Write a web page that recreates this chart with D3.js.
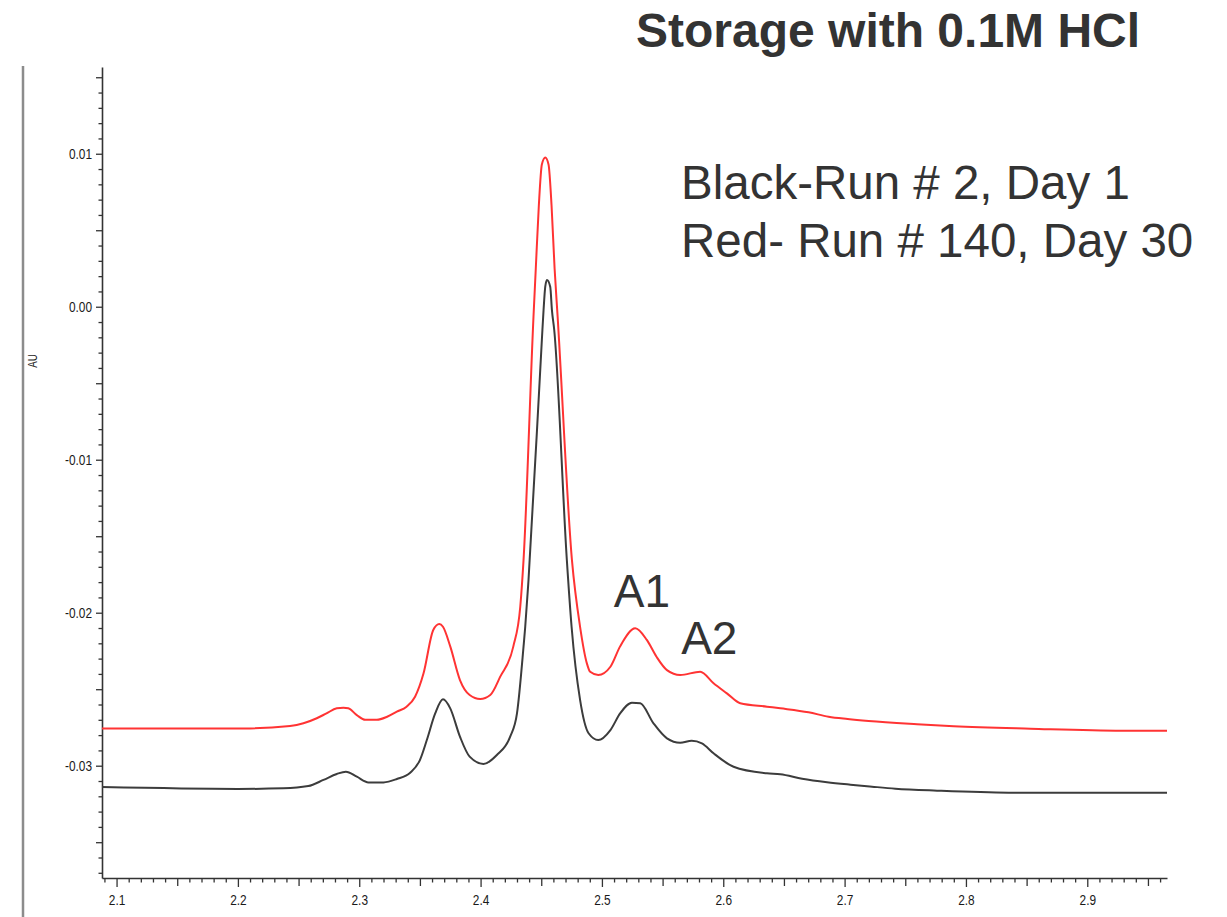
<!DOCTYPE html>
<html>
<head>
<meta charset="utf-8">
<script src="https://cdn.jsdelivr.net/npm/d3@7"></script>
<style>
  html, body { margin: 0; padding: 0; background: #fff; }
  svg { display: block; }
</style>
</head>
<body>
<script>
// Retention time (min) and absorbance (AU)
let blackTrace = [
  [2.088,-0.0314],[2.20,-0.03152],[2.2375,-0.03148],[2.258,-0.03133],[2.2705,-0.03093],
  [2.2815,-0.03054],[2.289,-0.03039],[2.298,-0.03072],[2.3076,-0.03109],[2.32,-0.03109],
  [2.331,-0.03087],[2.342,-0.03046],[2.35,-0.02963],[2.3557,-0.02832],[2.3626,-0.02658],
  [2.369,-0.02566],[2.375,-0.02625],[2.383,-0.0281],[2.391,-0.02941],[2.4024,-0.02989],
  [2.4134,-0.0293],[2.4244,-0.0281],[2.430,-0.02658],[2.4354,-0.02222],[2.4368,-0.02092],
  [2.4395,-0.01786],[2.4505,-0.00217],[2.4519,-0.00022],[2.4533,0.00131],[2.4547,0.00175],
  [2.4574,0.00131],[2.4588,-0.00022],[2.4607,-0.00152],[2.4711,-0.01656],[2.475,-0.02092],
  [2.482,-0.0257],[2.489,-0.02788],[2.497,-0.02832],[2.507,-0.02767],[2.515,-0.02658],
  [2.5247,-0.02588],[2.5316,-0.02592],[2.5425,-0.02723],[2.5536,-0.02821],[2.5645,-0.0285],
  [2.574,-0.02837],[2.5824,-0.02854],[2.592,-0.02919],[2.6085,-0.03007],[2.636,-0.0305],
  [2.647,-0.03056],[2.665,-0.03085],[2.6855,-0.03108],[2.7048,-0.03124],[2.7226,-0.03137],
  [2.7418,-0.0315],[2.7762,-0.03163],[2.8352,-0.03176],[2.9657,-0.03176]
];

let redTrace = [
  [2.088,-0.02756],[2.21,-0.02756],[2.243,-0.02741],[2.254,-0.02723],[2.265,-0.0269],
  [2.273,-0.02658],[2.2815,-0.02625],[2.287,-0.02621],[2.291,-0.02625],[2.298,-0.02669],
  [2.305,-0.0270],[2.3145,-0.0270],[2.323,-0.0268],[2.331,-0.02647],[2.339,-0.02614],
  [2.346,-0.02549],[2.353,-0.02396],[2.361,-0.02113],[2.366,-0.02074],[2.369,-0.02092],
  [2.375,-0.0222],[2.383,-0.0244],[2.391,-0.02538],[2.3997,-0.02564],[2.408,-0.02538],
  [2.4162,-0.02418],[2.427,-0.0222],[2.4327,-0.01961],[2.4354,-0.01656],[2.4436,-0.00065],
  [2.4455,0.0025],[2.448,0.0066],[2.4505,0.0093],[2.4533,0.00976],[2.456,0.0093],
  [2.4585,0.0066],[2.461,0.0025],[2.4635,-0.00065],[2.4753,-0.01656],[2.482,-0.02092],
  [2.4876,-0.02331],[2.4903,-0.02386],[2.497,-0.02407],[2.507,-0.02353],[2.515,-0.0222],
  [2.5275,-0.02102],[2.537,-0.02178],[2.545,-0.02288],[2.5536,-0.02375],[2.5645,-0.02407],
  [2.581,-0.02386],[2.592,-0.02461],[2.603,-0.02527],[2.614,-0.02592],[2.636,-0.02614],
  [2.647,-0.02625],[2.6703,-0.02651],[2.6868,-0.0268],[2.7025,-0.02695],[2.7198,-0.02708],
  [2.7597,-0.02729],[2.7899,-0.02742],[2.8531,-0.02758],[2.9287,-0.02771],[2.9657,-0.02771]
];

let titleText = "Storage with 0.1M HCl";
let legendLines = ["Black-Run # 2, Day 1", "Red- Run # 140, Day 30"];
let peakLabels = [
  {name: "A1", t: 2.533, au: -0.0196},
  {name: "A2", t: 2.5885, au: -0.0227}
];

// Ticks: every 0.001 AU and 0.01 min
let yTicks = d3.range(-37, 16).map(i => i / 1000);
let xTicks = d3.range(209, 297).map(i => i / 100);

let width = 1227, height = 917;
let textColor = "#333333";
let tickFont = "'Liberation Sans', Arial, sans-serif";
let squeeze = 0.82;  // tick labels are drawn narrow in the original

let svg = d3.select("body").append("svg")
    .attr("width", width)
    .attr("height", height);

// Scales
let x = d3.scaleLinear().domain([2.088, 2.9657]).range([102, 1167]);
let y = d3.scaleLinear().domain([-0.03734, 0.01567]).range([878, 67]);

// Grey frame line at the left edge
svg.append("line")
    .attr("x1", 23).attr("x2", 23)
    .attr("y1", 66).attr("y2", height)
    .attr("stroke", "#8c8c8c")
    .attr("stroke-width", 2.5);

// Y axis
let yAxis = svg.append("g")
    .attr("transform", "translate(" + x.range()[0] + ",0)")
    .call(d3.axisLeft(y)
      .tickValues(yTicks)
      .tickSizeOuter(0)
      .tickFormat(d => Math.round(d * 1000) % 10 === 0 ? d.toFixed(2) : ""));

yAxis.select(".domain").attr("stroke", "#333").attr("stroke-width", 1.6);
yAxis.selectAll(".tick line")
    .attr("stroke", "#333")
    .attr("stroke-width", 1.3)
    .attr("x2", d => Math.round(d * 1000) % 5 === 0 ? -6 : -3.5);
yAxis.selectAll(".tick text")
    .attr("x", -10 / squeeze)
    .attr("transform", "scale(" + squeeze + ",1)")
    .attr("fill", "#1a1a1a")
    .style("font-family", tickFont)
    .style("font-size", "14.5px");

// X axis
let xAxis = svg.append("g")
    .attr("transform", "translate(0," + y.range()[0] + ")")
    .call(d3.axisBottom(x)
      .tickValues(xTicks)
      .tickSizeOuter(0)
      .tickFormat(d => Math.round(d * 100) % 10 === 0 ? d.toFixed(1) : ""));

xAxis.select(".domain").attr("stroke", "#333").attr("stroke-width", 1.6);
xAxis.selectAll(".tick line")
    .attr("stroke", "#333")
    .attr("stroke-width", 1.3)
    .attr("y2", d => {
      let k = Math.round(d * 100);
      if (k % 10 === 0) return 9;
      if (k % 5 === 0) return 8;
      return 4.5;
    });
xAxis.selectAll(".tick text")
    .attr("y", 17)
    .attr("transform", "scale(" + squeeze + ",1)")
    .attr("fill", "#1a1a1a")
    .style("font-family", tickFont)
    .style("font-size", "14.5px");

// AU label
svg.append("text")
    .attr("transform", "translate(37,361) rotate(-90) scale(" + squeeze + ",1)")
    .attr("text-anchor", "middle")
    .attr("fill", "#222")
    .style("font-family", tickFont)
    .style("font-size", "12px")
    .text("AU");

// Traces
let line = d3.line()
    .x(d => x(d[0]))
    .y(d => y(d[1]))
    .curve(d3.curveMonotoneX);

svg.append("path")
    .datum(redTrace)
    .attr("d", line)
    .attr("fill", "none")
    .attr("stroke", "#ff3333")
    .attr("stroke-width", 2);

svg.append("path")
    .datum(blackTrace)
    .attr("d", line)
    .attr("fill", "none")
    .attr("stroke", "#3c3c3c")
    .attr("stroke-width", 2);

// Title
svg.append("text")
    .attr("x", 636)
    .attr("y", 47)
    .attr("fill", textColor)
    .style("font-family", "'Liberation Sans', Arial, sans-serif")
    .style("font-weight", "bold")
    .style("font-size", "48px")
    .text(titleText);

// Legend text
svg.selectAll("text.legend")
  .data(legendLines)
  .enter().append("text")
    .attr("class", "legend")
    .attr("x", 681)
    .attr("y", (d, i) => 199 + i * 58)
    .attr("fill", textColor)
    .style("font-family", "'Liberation Sans', Arial, sans-serif")
    .style("font-size", "47.5px")
    .text(d => d);

// Peak labels
svg.selectAll("text.peak")
  .data(peakLabels)
  .enter().append("text")
    .attr("class", "peak")
    .attr("x", d => x(d.t))
    .attr("y", d => y(d.au))
    .attr("text-anchor", "middle")
    .attr("fill", textColor)
    .style("font-family", "'Liberation Sans', Arial, sans-serif")
    .style("font-size", "46px")
    .text(d => d.name);
</script>
</body>
</html>
